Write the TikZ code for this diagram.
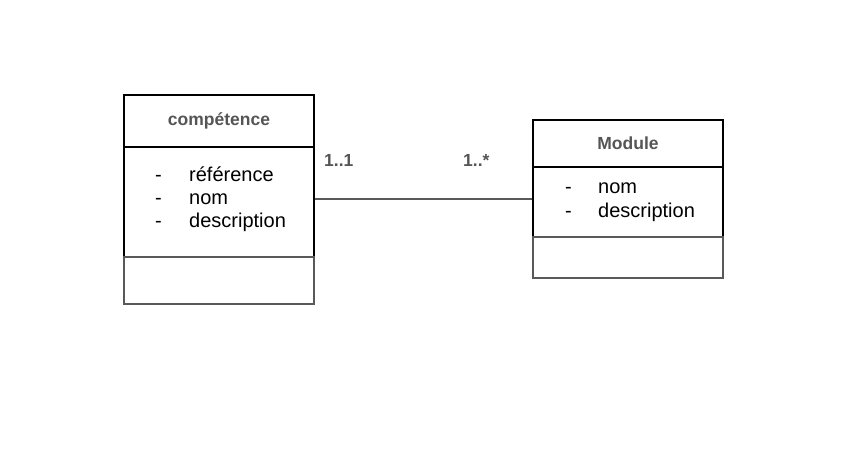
\documentclass[tikz,border=0pt]{standalone}
\usepackage{fontspec}
\setmainfont{Liberation Sans}
\usetikzlibrary{positioning}
\definecolor{umlgray}{RGB}{89,89,89}
\definecolor{labelgray}{RGB}{85,85,85}

\begin{document}
\begin{tikzpicture}[x=1pt, y=-1pt,
    part/.style={draw, line width=2pt, minimum width=190pt, inner sep=0pt, anchor=north west},
    title/.style={font=\fontsize{17.5}{20}\selectfont\bfseries, text=labelgray},
    attrs/.style={font=\fontsize{20}{23}\selectfont, anchor=west, inner sep=0pt},
    mult/.style={font=\fontsize{17.5}{20}\selectfont\bfseries, text=labelgray, anchor=west, inner sep=0pt}]
    \useasboundingbox (0,0) rectangle (850,467);
    % competence class
    \node[part, minimum height=52pt, title] (compHead) at (123,94) {compétence};
    \node[part, minimum height=110pt] (compAttr) at (123,146) {};
    \node[part, minimum height=47pt, umlgray] (compOps) at (123,256) {};
    \node[attrs] (compList) at (155,200) {\begin{tabular}{@{}p{34pt}@{}l@{}}
        - & référence\\ - & nom\\ - & description\end{tabular}};
    
    % Module class
    \node[part, minimum height=47pt, title] (modHead) at (532,119) {Module};
    \node[part, minimum height=70pt] (modAttr) at (532,166) {};
    \node[part, minimum height=41pt, umlgray] (modOps) at (532,236) {};
    \node[attrs, font=\fontsize{20}{24}\selectfont] (modList) at (565,201) {\begin{tabular}{@{}p{33pt}@{}l@{}}
        - & nom\\ - & description\end{tabular}};
    
    % association
    \draw[umlgray, line width=2pt] ([yshift=3pt]compAttr.east) -- ([yshift=3pt]modAttr.west);
    \node[mult] (multComp) at (324,160) {1..1};
    \node[mult] (multMod) at (463,160) {1..*};
\end{tikzpicture}
\end{document}
